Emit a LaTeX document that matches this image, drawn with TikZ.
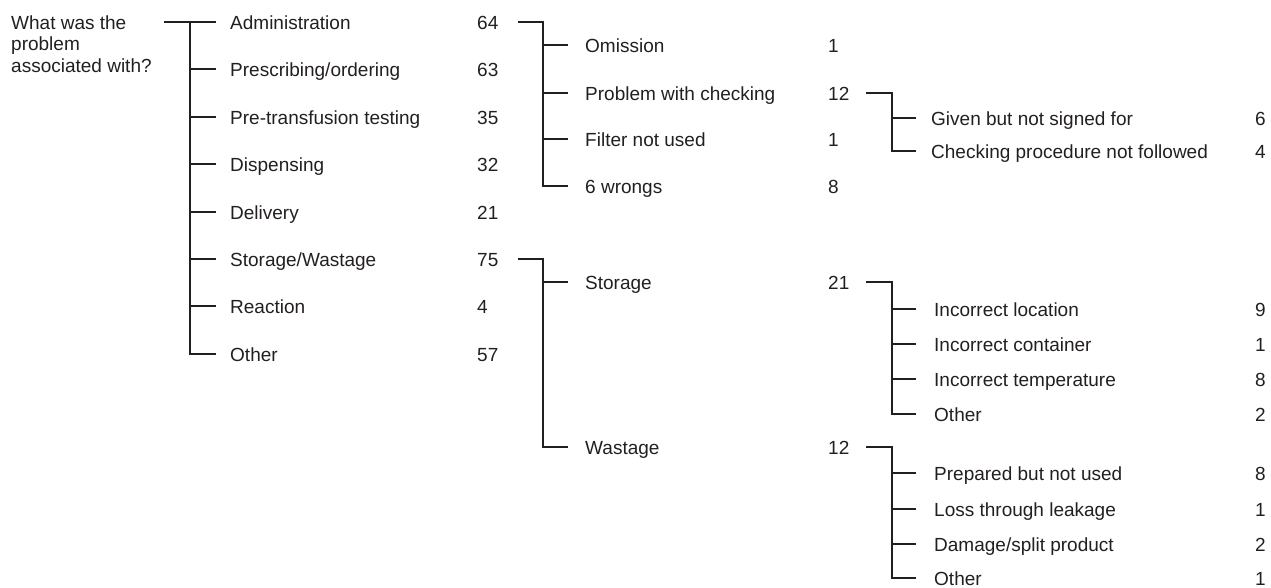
\documentclass[tikz,border=0pt]{standalone}
\usepackage{fontspec}
\setmainfont{Liberation Sans}
\definecolor{ink}{HTML}{231F20}
\begin{document}
\begin{tikzpicture}[x=1pt,y=-1pt,
  ln/.style={draw=ink,line width=1.5pt},
  lbl/.style={anchor=base west,inner sep=0pt,text=ink,font=\fontsize{19}{21.5}\selectfont}]
\useasboundingbox (0,0) rectangle (1271,587);

% question
\node[lbl] (q1) at (11,29) {What was the};
\node[lbl] (q2) at (11,50.5) {problem};
\node[lbl] (q3) at (11,72) {associated with?};
\coordinate (r0) at (164,22);
\coordinate (s1top) at (190,22);
\coordinate (s1bot) at (190,354);

% level 1
\node[lbl] (a1) at (230,29) {Administration};        \node[lbl] (n1) at (477,29) {64};
\node[lbl] (a2) at (230,76) {Prescribing/ordering};  \node[lbl] (n2) at (477,76) {63};
\node[lbl] (a3) at (230,124) {Pre-transfusion testing}; \node[lbl] (n3) at (477,124) {35};
\node[lbl] (a4) at (230,171) {Dispensing};           \node[lbl] (n4) at (477,171) {32};
\node[lbl] (a5) at (230,219) {Delivery};             \node[lbl] (n5) at (477,219) {21};
\node[lbl] (a6) at (230,266) {Storage/Wastage};      \node[lbl] (n6) at (477,266) {75};
\node[lbl] (a7) at (230,313) {Reaction};             \node[lbl] (n7) at (477,313) {4};
\node[lbl] (a8) at (230,361) {Other};                \node[lbl] (n8) at (477,361) {57};

\draw[ln] (r0) -- (s1top) -- (s1bot) -- ++(26,0);
\foreach \y in {22,69,117,164,212,259,306}
  \draw[ln] (190,\y) -- ++(26,0);

% level 2a: administration
\coordinate (d1) at (518,22);
\coordinate (s2a) at (543,22);
\node[lbl] (b1) at (585,52) {Omission};               \node[lbl] (m1) at (828,52) {1};
\node[lbl] (b2) at (585,100) {Problem with checking}; \node[lbl] (m2) at (828,100) {12};
\node[lbl] (b3) at (585,146) {Filter not used};       \node[lbl] (m3) at (828,146) {1};
\node[lbl] (b4) at (585,193) {6 wrongs};              \node[lbl] (m4) at (828,193) {8};
\draw[ln] (d1) -- (s2a) -- (543,186) -- ++(25,0);
\foreach \y in {45,93,139}
  \draw[ln] (543,\y) -- ++(25,0);

% level 3a: checking
\coordinate (d2) at (866,93);
\coordinate (s3a) at (892,93);
\node[lbl] (c1) at (931,125) {Given but not signed for};        \node[lbl] (k1) at (1255,125) {6};
\node[lbl] (c2) at (931,158) {Checking procedure not followed}; \node[lbl] (k2) at (1255,158) {4};
\draw[ln] (d2) -- (s3a) -- (892,151) -- ++(24,0);
\draw[ln] (892,118) -- ++(24,0);

% level 2b: storage/wastage
\coordinate (d6) at (518,259);
\coordinate (s2b) at (543,259);
\node[lbl] (b5) at (585,289) {Storage};  \node[lbl] (m5) at (828,289) {21};
\node[lbl] (b6) at (585,454) {Wastage};  \node[lbl] (m6) at (828,454) {12};
\draw[ln] (d6) -- (s2b) -- (543,447) -- ++(25,0);
\draw[ln] (543,282) -- ++(25,0);

% level 3b: storage
\coordinate (d5) at (866,282);
\coordinate (s3b) at (892,282);
\node[lbl] (e1) at (934,316) {Incorrect location};    \node[lbl] (f1) at (1255,316) {9};
\node[lbl] (e2) at (934,351) {Incorrect container};   \node[lbl] (f2) at (1255,351) {1};
\node[lbl] (e3) at (934,386) {Incorrect temperature}; \node[lbl] (f3) at (1255,386) {8};
\node[lbl] (e4) at (934,421) {Other};                 \node[lbl] (f4) at (1255,421) {2};
\draw[ln] (d5) -- (s3b) -- (892,414) -- ++(24,0);
\foreach \y in {309,344,379}
  \draw[ln] (892,\y) -- ++(24,0);

% level 3c: wastage
\coordinate (d7) at (866,447);
\coordinate (s3c) at (892,447);
\node[lbl] (g1) at (934,480) {Prepared but not used};  \node[lbl] (h1) at (1255,480) {8};
\node[lbl] (g2) at (934,516) {Loss through leakage};   \node[lbl] (h2) at (1255,516) {1};
\node[lbl] (g3) at (934,551) {Damage/split product};   \node[lbl] (h3) at (1255,551) {2};
\node[lbl] (g4) at (934,585) {Other};                  \node[lbl] (h4) at (1255,585) {1};
\draw[ln] (d7) -- (s3c) -- (892,578) -- ++(24,0);
\foreach \y in {473,509,544}
  \draw[ln] (892,\y) -- ++(24,0);
\end{tikzpicture}
\end{document}
